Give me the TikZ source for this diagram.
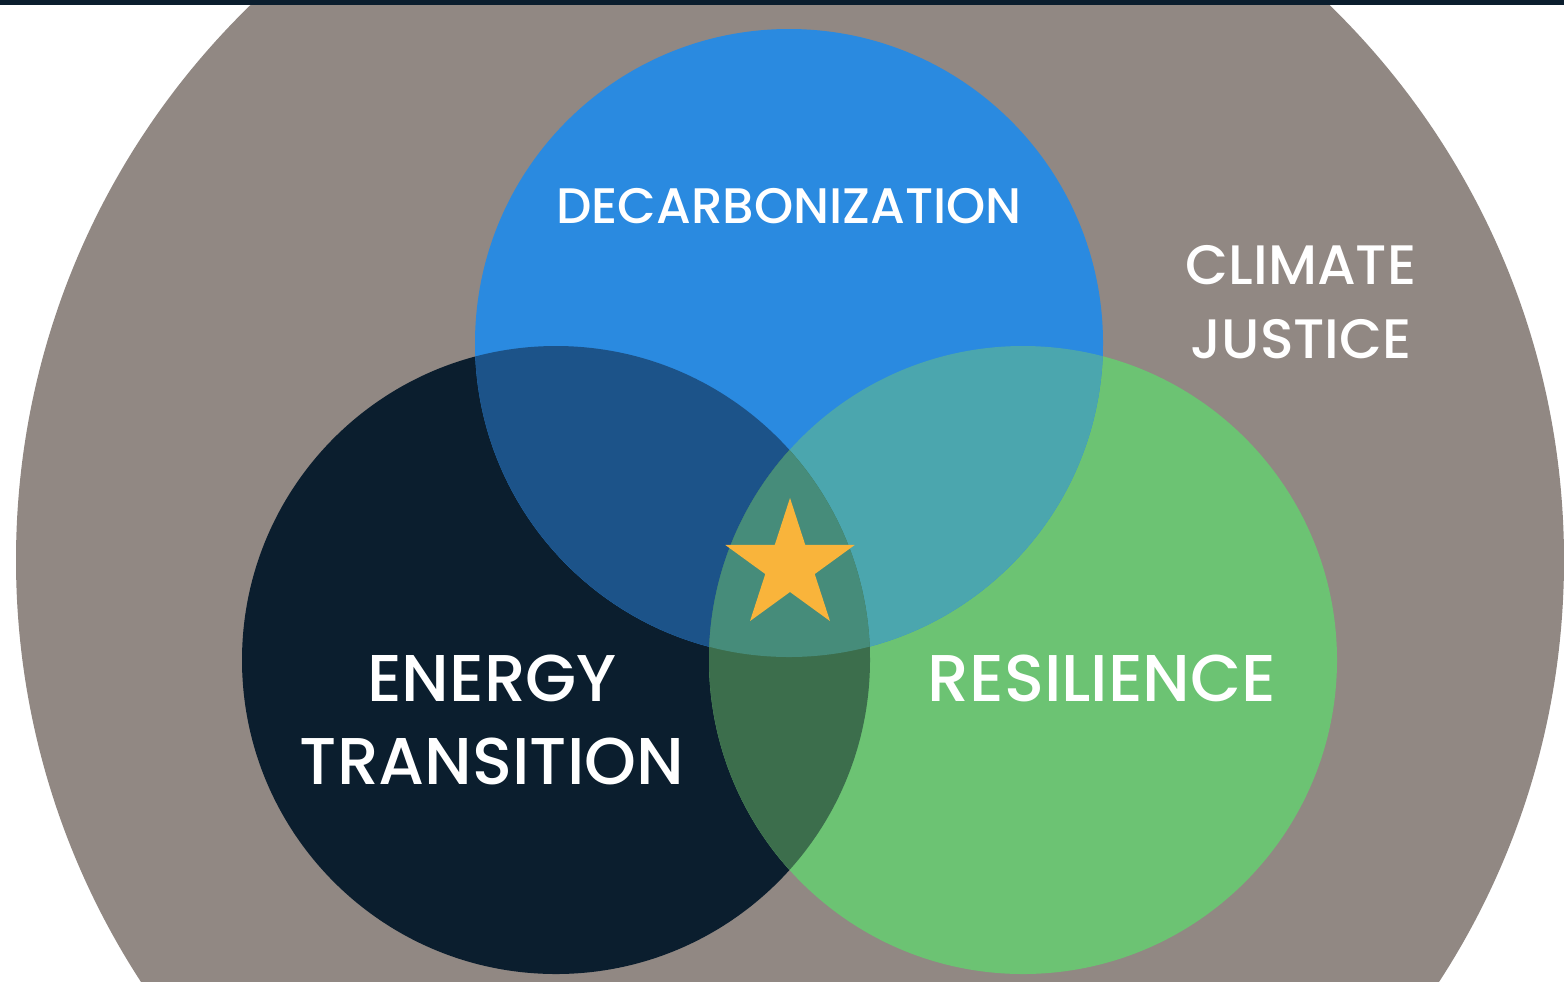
\documentclass[tikz,border=0pt]{standalone}
\usepackage{fontspec}
\IfFontExistsTF{Poppins Medium}{\setmainfont{Poppins Medium}}{\setmainfont{Poppins}}
\usetikzlibrary{shapes.geometric}
\definecolor{Navy}{RGB}{11,30,46}
\definecolor{Taupe}{RGB}{145,136,131}
\definecolor{SkyBlue}{RGB}{42,138,224}
\definecolor{Leaf}{RGB}{108,195,115}
\definecolor{BlueNavy}{RGB}{28,83,137}
\definecolor{BlueLeaf}{RGB}{75,166,174}
\definecolor{NavyLeaf}{RGB}{60,110,76}
\definecolor{Core}{RGB}{70,140,122}
\definecolor{Gold}{RGB}{249,180,59}

\begin{document}
\begin{tikzpicture}[x=0.01cm,y=-0.01cm,
    label/.style={text=white,align=center,inner sep=0pt},
    rad/.style={radius=314}
]

\useasboundingbox (0,0) rectangle (1564,981);
\clip (0,0) rectangle (1564,981);
\fill[white] (0,0) rectangle (1564,981);

% Circle centres
\coordinate (outer) at (790,560);
\coordinate (decarb) at (789,343);
\coordinate (energy) at (556,660);
\coordinate (resil) at (1023,660);

% Climate justice ring
\fill[Taupe] (outer) circle[radius=774];

% Three main circles
\fill[Navy] (energy) circle[rad];
\fill[Leaf] (resil) circle[rad];
\fill[SkyBlue] (decarb) circle[rad];

% Overlaps
\begin{scope}
  \clip (decarb) circle[rad];
  \fill[BlueNavy] (energy) circle[rad];
  \fill[BlueLeaf] (resil) circle[rad];
\end{scope}
\begin{scope}
  \clip (energy) circle[rad];
  \fill[NavyLeaf] (resil) circle[rad];
\end{scope}
\begin{scope}
  \clip (decarb) circle[rad];
  \clip (energy) circle[rad];
  \fill[Core] (resil) circle[rad];
\end{scope}

% Top bar
\fill[Navy] (0,0) rectangle (1564,5);

% Star
\node[star,star points=5,star point ratio=2.618,fill=Gold,inner sep=0pt,minimum size=1.36cm] (star) at (790,566) {};

% Labels
\node[label,font=\fontsize{14.2}{17}\selectfont] (decarb-text) at (789,206) {DECARBONIZATION};
\node[label,font=\fontsize{15.8}{21}\selectfont] (climate-text) at (1301,302) {CLIMATE\\JUSTICE};
\node[label,font=\fontsize{18.8}{23.6}\selectfont] (energy-text) at (492,720) {ENERGY\\TRANSITION};
\node[label,font=\fontsize{18.8}{23.6}\selectfont] (resil-text) at (1102,678) {RESILIENCE};

\end{tikzpicture}
\end{document}
